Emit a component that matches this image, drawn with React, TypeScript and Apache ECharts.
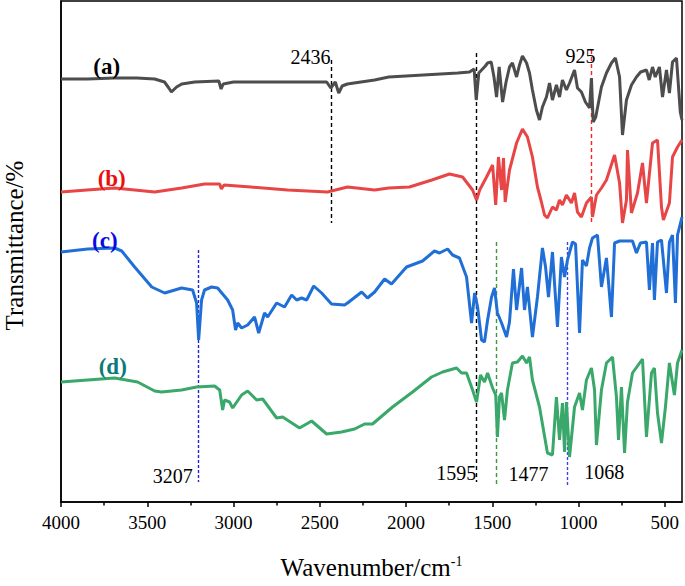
import React, { useEffect, useRef } from "react";
import * as echarts from "echarts";

// FTIR spectra: [wavenumber (cm-1), transmittance (arbitrary offset units)]
const seriesA: [number, number][] = [
  [4000,423],[3845,423],[3689,424],[3560,424],[3457,423],[3400,420],[3375,414],[3360,410],[3330,415],[3300,418],[3225,420],[3085,421],[3072,413],[3060,418],[3000,420],[2700,420],[2460,420],[2436,414],[2410,420],[2390,409],[2370,416],[2340,418],[2182,422],[2100,425],[1900,427],[1700,429],[1632,430],[1605,433],[1593,402],[1578,429],[1540,436],[1527,439],[1506,440],[1490,425],[1475,405],[1460,435],[1440,400],[1420,420],[1400,435],[1383,439],[1359,425],[1342,437],[1325,446],[1301,439],[1284,429],[1267,412],[1244,392],[1226,382],[1209,395],[1186,405],[1168,419],[1151,402],[1128,417],[1110,405],[1093,422],[1070,412],[1052,419],[1023,432],[1006,414],[983,410],[960,400],[936,394],[925,424],[915,380],[900,385],[867,415],[838,429],[809,439],[786,444],[762,425],[745,367],[722,402],[693,417],[664,425],[640,430],[606,432],[590,422],[571,435],[555,425],[531,435],[513,405],[490,432],[473,409],[455,440],[432,444],[410,390],[400,382]
];
const seriesB: [number, number][] = [
  [4000,310],[3850,312],[3689,314],[3457,310],[3300,314],[3168,318],[3080,318],[3070,313],[3055,317],[2900,315],[2686,312],[2455,310],[2339,315],[2182,312],[2100,314],[1980,315],[1850,322],[1748,328],[1672,325],[1614,312],[1591,302],[1573,312],[1533,325],[1498,337],[1480,297],[1464,345],[1446,312],[1435,344],[1425,300],[1400,332],[1359,359],[1325,373],[1296,365],[1267,345],[1238,315],[1215,300],[1197,287],[1180,284],[1151,295],[1128,292],[1110,302],[1093,297],[1070,307],[1041,299],[1023,309],[1006,290],[983,285],[954,299],[925,305],[919,285],[896,307],[867,314],[838,322],[791,347],[762,319],[745,279],[722,302],[716,352],[693,289],[658,309],[629,339],[606,299],[571,359],[542,362],[519,295],[508,282],[473,299],[455,345],[426,355],[400,362]
];
const seriesC: [number, number][] = [
  [4000,250],[3845,253],[3689,254],[3648,251],[3573,235],[3474,215],[3399,209],[3301,214],[3237,212],[3214,199],[3202,162],[3185,202],[3168,212],[3127,215],[3092,214],[3034,202],[3005,192],[2988,172],[2976,179],[2953,174],[2918,177],[2878,185],[2854,169],[2820,189],[2802,185],[2750,199],[2704,195],[2663,207],[2634,202],[2605,204],[2576,202],[2535,216],[2489,209],[2432,198],[2356,197],[2339,199],[2257,210],[2223,204],[2182,210],[2124,223],[2084,218],[1997,235],[1904,241],[1835,251],[1806,249],[1759,253],[1730,247],[1690,244],[1649,225],[1620,179],[1602,209],[1585,195],[1562,162],[1545,160],[1527,182],[1504,205],[1487,214],[1470,189],[1446,179],[1417,165],[1400,180],[1377,233],[1359,192],[1330,234],[1313,192],[1296,215],[1267,165],[1238,205],[1209,254],[1191,235],[1174,205],[1151,250],[1122,175],[1099,245],[1081,225],[1064,242],[1035,260],[1017,258],[994,169],[977,242],[954,236],[936,254],[919,264],[890,267],[867,215],[838,244],[809,185],[791,259],[762,261],[687,261],[664,249],[641,259],[606,260],[589,212],[571,259],[560,202],[542,260],[519,262],[490,209],[473,260],[455,267],[438,199],[426,267],[400,285]
];
const seriesD: [number, number][] = [
  [4000,120],[3845,122],[3689,124],[3556,120],[3457,111],[3417,110],[3301,112],[3214,115],[3110,116],[3080,112],[3063,92],[3052,102],[3023,100],[3005,94],[2953,107],[2918,111],[2866,102],[2831,103],[2750,84],[2715,85],[2617,74],[2547,81],[2460,68],[2374,70],[2298,73],[2240,78],[2194,78],[2078,95],[1962,110],[1852,125],[1788,130],[1707,134],[1678,129],[1649,129],[1614,112],[1591,100],[1568,127],[1545,120],[1527,129],[1498,114],[1480,107],[1470,65],[1458,105],[1446,109],[1429,82],[1412,112],[1383,139],[1354,140],[1325,146],[1301,139],[1284,145],[1267,122],[1226,95],[1180,49],[1151,47],[1128,105],[1110,62],[1093,99],[1081,50],[1070,100],[1052,45],[1023,95],[994,109],[977,92],[954,122],[925,134],[907,112],[896,57],[867,112],[838,139],[803,145],[780,105],[768,62],[751,115],[733,49],[716,100],[687,129],[629,143],[606,65],[577,129],[560,134],[542,89],[519,59],[496,95],[473,139],[444,107],[426,139],[400,152]
];

const seriesNames = ["(a)", "(b)", "(c)", "(d)"];
const peakValues = [2436, 925, 3207, 1595, 1477, 1068];
const majorTicks = [4000, 3500, 3000, 2500, 2000, 1500, 1000, 500];
const minorTicks = [3750, 3250, 2750, 2250, 1750, 1250, 750];

// layout / style config (not data)
const FONT = '"Liberation Serif", "Times New Roman", serif';
const lineColors = ["#4d4d4d", "#e84646", "#1f6fd6", "#3aa86a"];
const nameColors = ["#000000", "#e8100f", "#0a0ae0", "#0a7a7a"];
const namePos: [number, number][] = [[3735, 436], [3706, 324], [3746, 262], [3700, 136]];
// per peak: [yStart, yEnd, labelX, labelY, color, dash]
const peakStyle: [number, number, number, number, string, number[]][] = [
  [442, 279, 2554, 445, "#000000", [4, 3]],
  [452, 277, 989, 446, "#ff2020", [4, 3]],
  [252, 20, 3352, 26, "#2020d8", [3, 2]],
  [449, 20, 1709, 29, "#000000", [4, 3]],
  [260, 17, 1290, 28, "#3a9a3a", [4, 3]],
  [260, 17, 851, 30, "#4040e8", [3, 2]],
];

export default function App() {
  const ref = useRef<HTMLDivElement>(null);
  useEffect(() => {
    if (!ref.current) return;
    const chart = echarts.init(ref.current, undefined, { renderer: "svg" });
    const spectra = [seriesA, seriesB, seriesC, seriesD];
    const lineSeries = spectra.map((d, i) => ({
      type: "line",
      name: seriesNames[i],
      data: d,
      showSymbol: false,
      symbol: "none",
      xAxisIndex: 0,
      yAxisIndex: 0,
      lineStyle: { color: lineColors[i], width: 3 },
      silent: true,
      z: 3,
    }));
    const labelData: any[] = [];
    seriesNames.forEach((n, i) => {
      labelData.push({
        value: namePos[i],
        label: { formatter: n, color: nameColors[i], fontWeight: "bold", fontSize: 23 },
      });
    });
    peakValues.forEach((p, i) => {
      labelData.push({
        value: [peakStyle[i][2], peakStyle[i][3]],
        label: { formatter: String(p), color: "#000", fontSize: 20 },
      });
    });
    const markData = peakValues.map((p, i) => [
      { coord: [p, peakStyle[i][0]], lineStyle: { color: peakStyle[i][4], type: peakStyle[i][5], width: 1.4 } },
      { coord: [p, peakStyle[i][1]] },
    ]);
    const option: any = {
      animation: false,
      backgroundColor: "#ffffff",
      grid: {
        left: 61, right: 3, top: 1, bottom: 84,
        show: true, borderColor: "#000", borderWidth: 1.5, backgroundColor: "transparent",
        containLabel: false, outerBoundsMode: "none",
      },
      xAxis: [
        {
          type: "value", min: 400, max: 4000, inverse: true,
          name: "Wavenumber/cm{sup|-1}", nameLocation: "middle", nameGap: 52,
          nameTextStyle: {
            fontFamily: FONT, fontSize: 25, color: "#000",
            rich: { sup: { fontFamily: FONT, fontSize: 14, color: "#000", padding: [0, 0, 12, 0] } },
          },
          axisLine: { show: true, lineStyle: { color: "#000", width: 1.5 } },
          axisTick: { show: true, inside: false, length: 5, customValues: majorTicks, lineStyle: { color: "#000", width: 1.5 } },
          axisLabel: {
            show: true, customValues: majorTicks, margin: 11, fontFamily: FONT, fontSize: 19, color: "#000",
            formatter: (v: number) => String(v),
          },
          splitLine: { show: false },
        },
        {
          type: "value", min: 400, max: 4000, inverse: true, position: "bottom",
          axisLine: { show: false },
          axisTick: { show: true, inside: false, length: 3.5, customValues: minorTicks, lineStyle: { color: "#000", width: 1.5 } },
          axisLabel: { show: false },
          splitLine: { show: false },
        },
      ],
      yAxis: {
        type: "value", min: 0, max: 501,
        name: "Transmittance/%", nameLocation: "middle", nameGap: 34,
        nameTextStyle: { fontFamily: FONT, fontSize: 25, color: "#000", padding: [0, 0, 0, 12] },
        axisLine: { show: true, lineStyle: { color: "#000", width: 1.5 } },
        axisTick: { show: false },
        axisLabel: { show: false },
        splitLine: { show: false },
      },
      series: [
        ...lineSeries,
        {
          type: "scatter",
          xAxisIndex: 0,
          yAxisIndex: 0,
          symbolSize: 0,
          silent: true,
          z: 5,
          itemStyle: { opacity: 1, color: "transparent" },
          data: labelData,
          label: {
            show: true, position: [0, 0], fontFamily: FONT, align: "center", verticalAlign: "middle",
            textBorderWidth: 0, opacity: 1,
          },
          labelLayout: { hideOverlap: false },
          markLine: { silent: true, symbol: ["none", "none"], label: { show: false }, data: markData, z: 2 },
        },
      ],
    };
    chart.setOption(option);
    return () => chart.dispose();
  }, []);
  return (
    <div
      ref={ref}
      style={{ position: "fixed", left: 0, top: 0, width: 685, height: 586, background: "#fff" }}
    />
  );
}
